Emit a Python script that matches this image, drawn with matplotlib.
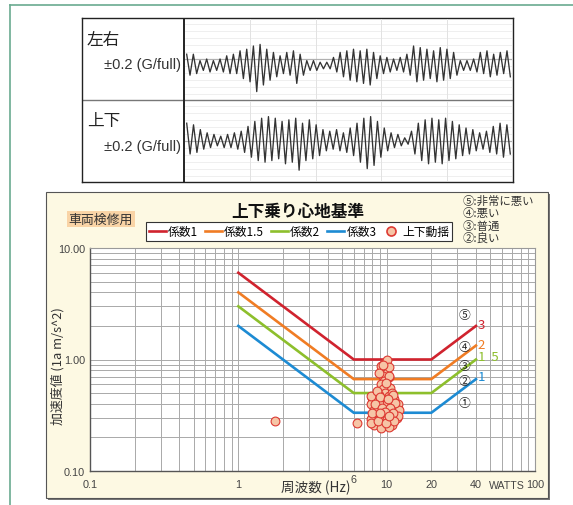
import numpy as np
import matplotlib.pyplot as plt
from matplotlib.lines import Line2D
from matplotlib.patches import Rectangle
from matplotlib.ticker import NullFormatter

plt.rcParams['font.family'] = ['Noto Sans CJK JP', 'DejaVu Sans']
LATIN = ['Liberation Sans', 'DejaVu Sans']

# ---- waveform data (peak / trough of each cycle, G) ----
lr_max = [0.024, 0.024, -0.008, 0.000, -0.008, 0.000, 0.016, 0.024, 0.041, 0.049,
          0.065, 0.073, 0.049, 0.033, 0.016, 0.033, 0.041, 0.024, -0.008, -0.008,
          -0.016, -0.016, 0.008, 0.033, 0.041, 0.049, 0.041, 0.049, 0.033, 0.016,
          0.008, 0.000, 0.008, 0.024, 0.065, 0.057, 0.049, 0.041, 0.057, 0.049,
          0.033, -0.008, -0.008, 0.000, 0.033, 0.041, 0.024, 0.033, 0.041]
lr_min = [-0.081, -0.073, -0.057, -0.065, -0.057, -0.065, -0.073, -0.073, -0.098, -0.114,
          -0.163, -0.130, -0.106, -0.089, -0.073, -0.081, -0.122, -0.081, -0.057, -0.057,
          -0.049, -0.049, -0.065, -0.089, -0.106, -0.114, -0.122, -0.130, -0.098, -0.073,
          -0.065, -0.057, -0.065, -0.081, -0.114, -0.106, -0.098, -0.114, -0.106, -0.098,
          -0.081, -0.057, -0.057, -0.065, -0.073, -0.089, -0.081, -0.073, -0.089]
ud_max = [0.089, 0.081, 0.057, 0.041, 0.033, 0.024, 0.033, 0.041, 0.049, 0.073,
          0.098, 0.114, 0.122, 0.114, 0.098, 0.106, 0.114, 0.089, 0.106, 0.081,
          0.057, 0.049, 0.057, 0.041, 0.065, 0.089, 0.114, 0.122, 0.098, 0.065,
          0.041, 0.033, 0.016, 0.049, 0.089, 0.106, 0.114, 0.106, 0.114, 0.098,
          0.081, 0.065, 0.057, 0.041, 0.049, 0.073, 0.089, 0.081]
ud_min = [-0.065, -0.057, -0.041, -0.033, -0.024, -0.033, -0.033, -0.041, -0.057, -0.081,
          -0.098, -0.106, -0.098, -0.089, -0.114, -0.106, -0.146, -0.098, -0.089, -0.073,
          -0.049, -0.041, -0.049, -0.057, -0.073, -0.106, -0.138, -0.122, -0.081, -0.049,
          -0.033, -0.024, -0.016, -0.065, -0.098, -0.114, -0.106, -0.114, -0.098, -0.089,
          -0.073, -0.065, -0.049, -0.041, -0.057, -0.065, -0.081, -0.065]

# ---- ride comfort curves ----
knot_freq = [1, 6, 20, 40]
red_curve = [6.0, 1.0, 1.0, 2.0]
orange_curve = [4.0, 0.667, 0.667, 1.333]
green_curve = [3.0, 0.5, 0.5, 1.0]
blue_curve = [2.0, 0.333, 0.333, 0.667]
curve_labels = ['係数1', '係数1.5', '係数2', '係数3']
grade_notes = ['⑤:非常に悪い', '④:悪い', '③:普通', '②:良い']

# ---- measured vertical vibration ----
meas_freq = [9.8, 9.6, 9.1, 10.1, 9.4, 10.4, 9.6, 9.1, 10.1, 10.6,
             9.4, 9.8, 8.9, 10.4, 8.0, 8.4, 11.2, 9.4, 10.1, 7.8,
             8.9, 10.9, 11.8, 8.2, 9.6, 10.4, 11.5, 8.65, 9.4, 10.9,
             7.8, 8.9, 10.1, 11.8, 8.2, 9.6, 10.9, 9.1, 10.4, 10.0,
             9.1, 10.4, 8.9, 12.0, 12.2, 12.0, 7.8, 7.9, 1.78, 6.3,
             8.6, 10.8, 9.0, 11.0, 8.3, 11.3, 9.3, 10.6, 8.0, 11.0,
             9.8, 8.7, 11.2, 9.9, 10.3, 9.0, 10.2, 9.9, 10.3, 9.5]
meas_acc = [0.93, 0.84, 0.79, 0.76, 0.71, 0.69, 0.64, 0.60, 0.58, 0.56,
            0.54, 0.50, 0.485, 0.47, 0.45, 0.44, 0.44, 0.42, 0.41, 0.395,
            0.395, 0.395, 0.38, 0.356, 0.356, 0.345, 0.345, 0.32, 0.31, 0.31,
            0.29, 0.29, 0.29, 0.30, 0.26, 0.26, 0.26, 0.245, 0.25, 0.98,
            0.87, 0.71, 0.76, 0.40, 0.35, 0.31, 0.47, 0.27, 0.278, 0.267,
            0.52, 0.50, 0.46, 0.48, 0.40, 0.41, 0.37, 0.37, 0.33, 0.33,
            0.34, 0.28, 0.28, 0.27, 0.31, 0.33, 0.44, 0.62, 0.85, 0.90]

W, H = 573, 506


def box(x0, y0, x1, y1):
    return [x0 / W, 1 - y1 / H, (x1 - x0) / W, (y1 - y0) / H]


def fxy(x, y):
    return x / W, 1 - y / H


fig = plt.figure(figsize=(W / 100, H / 100), dpi=100)
fig.patch.set_facecolor('white')

# outer teal frame
fig.add_artist(Line2D([10 / W, 10 / W], [0, 1 - 6 / H], color='#6aaa90', lw=1.2))
fig.add_artist(Line2D([10 / W, 1], [1 - 6 / H, 1 - 6 / H], color='#6aaa90', lw=1.2))

# ---------------- top waveform panel ----------------
frame = fig.add_axes(box(82, 19, 513, 183))
frame.set_xticks([])
frame.set_yticks([])
for s in frame.spines.values():
    s.set_color('#222')
    s.set_linewidth(1.0)
frame.axhline(0.5, color='#777', lw=1.0)
frame.axvline((184 - 82) / (513 - 82), color='#222', lw=1.4)

waves = [(lr_max, lr_min, 19, 101, '左右'), (ud_max, ud_min, 101, 183, '上下')]
for mx, mn, y0, y1, name in waves:
    wa = fig.add_axes(box(185, y0 + 1, 512, y1 - 1))
    wa.patch.set_alpha(0)
    n = len(mx)
    yy = np.empty(2 * n)
    yy[0::2] = mx
    yy[1::2] = mn
    xx = np.arange(2 * n)
    for g in np.arange(-0.175, 0.2, 0.035):
        wa.axhline(g, color='#ececec', lw=0.6, zorder=0)
    for v in np.linspace(-0.5, 2 * n - 0.5, 6)[1:-1]:
        wa.axvline(v, color='#e2e2e2', lw=0.7, zorder=0)
    wa.axhline(0, color='#b0b0b0', lw=0.9, zorder=1)
    wa.plot(xx, yy, color='#333333', lw=0.95, zorder=2)
    wa.set_xlim(-0.5, 2 * n - 0.5)
    wa.set_ylim(-0.2, 0.2)
    wa.axis('off')
    fig.text(*fxy(87, y0 + 21), name, fontsize=12, ha='left', va='center', color='#222')
    fig.text(*fxy(181, y0 + 46), '±0.2 (G/full)', fontsize=10.5, ha='right',
             va='center', color='#333', family=LATIN)

# ---------------- bottom comfort chart ----------------
fig.add_artist(Rectangle((48 / W, 1 - 501 / H), 502 / W, 306 / H, transform=fig.transFigure,
                         facecolor='#777', edgecolor='none', zorder=-3))
fig.add_artist(Rectangle((46 / W, 1 - 499 / H), 502 / W, 306 / H, transform=fig.transFigure,
                         facecolor='#fdf9e3', edgecolor='#555', lw=0.8, zorder=-2))

ax = fig.add_axes(box(90, 249, 535, 472))
ax.set_facecolor('white')
ax.set_xscale('log')
ax.set_yscale('log')
ax.set_xlim(0.1, 100)
ax.set_ylim(0.1, 10)
ax.grid(which='both', color='#a9a9a9', lw=0.7)
ax.set_axisbelow(True)
for s in ax.spines.values():
    s.set_color('#9a9a9a')
    s.set_linewidth(0.8)
ax.spines['left'].set_color('#555')
ax.spines['bottom'].set_color('#555')
ax.spines['left'].set_linewidth(1.0)
ax.spines['bottom'].set_linewidth(1.0)

ax.set_yticks([0.1, 1, 10], labels=['0.10', '1.00', '10.00'])
ax.set_xticks([0.1, 1, 10, 20, 40, 100], labels=['0.1', '1', '10', '20', '40', '100'])
ax.tick_params(which='both', length=0, labelsize=7.8, labelcolor='#444')
ax.tick_params(axis='x', pad=6)
ax.tick_params(axis='y', pad=3.5)
for t in ax.get_xticklabels() + ax.get_yticklabels():
    t.set_family(LATIN)
ax.minorticks_on()
ax.tick_params(which='minor', labelbottom=False, labelleft=False)
ax.xaxis.set_minor_formatter(NullFormatter())
ax.yaxis.set_minor_formatter(NullFormatter())

colors = ['#d0232e', '#f07c24', '#8dbf2c', '#1d8bd3']
curves = [red_curve, orange_curve, green_curve, blue_curve]
handles = []
for c, vals, lab in zip(colors, curves, curve_labels):
    h, = ax.plot(knot_freq, vals, color=c, lw=1.9, solid_joinstyle='miter', label=lab, zorder=3)
    handles.append(h)

ax.scatter(meas_freq, meas_acc, s=40, facecolor='#f6c5a6', edgecolor='#dd3a33',
           lw=0.8, zorder=4)
handles.append(Line2D([], [], ls='none', marker='o', ms=6.5, mfc='#f6c5a6',
                      mec='#dd3a33', mew=1.2, label='上下動揺'))

# axis extras
ax.text(6, -0.012, '6', transform=ax.get_xaxis_transform(), fontsize=7.8, color='#444',
        ha='center', va='top', family=LATIN)
ax.text(85, -0.04, 'WATTS', transform=ax.get_xaxis_transform(), fontsize=7.6,
        color='#444', ha='right', va='top', family=LATIN)

for lab, yv in zip(['⑤', '④', '③', '②', '①'], [2.53, 1.31, 0.88, 0.65, 0.41]):
    ax.text(33.5, yv, lab, fontsize=8.5, ha='center', va='center', color='#222')
for lab, yv, c in zip(['3', '2', '1  5', '1'], [2.06, 1.36, 1.06, 0.70], colors):
    ax.text(41.0, yv, lab, fontsize=9.5, ha='left', va='center', color=c)

fig.text(*fxy(58, 366), '加速度値 (1a m/s^2)', rotation=90, fontsize=9.3, ha='center',
         va='center', color='#333')
fig.text(*fxy(316, 488), '周波数 (Hz)', fontsize=9.8, ha='center', va='center', color='#333')

fig.text(*fxy(298, 212), '上下乗り心地基準', fontsize=12, fontweight='bold',
         ha='center', va='center', color='#111')
fig.text(*fxy(101, 220), '車両検修用', fontsize=9.3, ha='center', va='center', color='#333',
         bbox=dict(boxstyle='square,pad=0.15', facecolor='#f9d4a6', edgecolor='none'))
fig.text(*fxy(463, 220), '\n'.join(grade_notes), fontsize=8.2, ha='left', va='center',
         color='#333', linespacing=1.12)

leg = fig.legend(handles=handles, loc='center', bbox_to_anchor=fxy(299, 232.5), ncol=5,
                 fontsize=8.5, handlelength=1.45, handletextpad=0.2, columnspacing=0.55,
                 borderpad=0.25, frameon=True, fancybox=False, framealpha=1)
leg.get_frame().set_edgecolor('#333')
leg.get_frame().set_linewidth(0.8)

fig.savefig('out.png', dpi=100)
